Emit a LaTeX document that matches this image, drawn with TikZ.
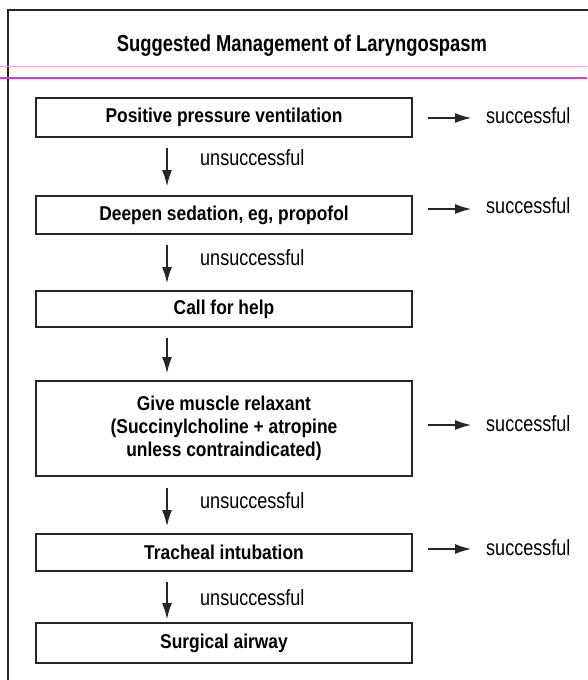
\documentclass[tikz,border=0pt]{standalone}
\usepackage{fontspec}
\setmainfont{Liberation Sans}
\newfontfamily\boxfont[FakeStretch=0.87]{Liberation Sans}
\newfontfamily\labfont[FakeStretch=0.82]{Liberation Sans}
\newfontfamily\titfont[FakeStretch=0.80]{Liberation Sans}
\usetikzlibrary{arrows.meta}
\definecolor{sepmag}{RGB}{214,60,200}
\begin{document}
\begin{tikzpicture}[x=1pt,y=-1pt,
  stepbox/.style={draw=black!85, line width=1.2pt, minimum width=376pt, inner sep=0pt,
    align=center, font=\boxfont\bfseries\fontsize{20}{23}\selectfont},
  lab/.style={font=\labfont\fontsize{22}{25}\selectfont, inner sep=0pt, anchor=west},
  arr/.style={draw=black!85, line width=1.2pt, -{Latex[length=16pt,width=10pt]}}]
\useasboundingbox (0,0) rectangle (587,680);
\fill[white] (0,0) rectangle (587,680);
% frame
\draw[line width=1.6pt, black!85] (8,681) -- (8,10) -- (588,10);
% separator
\draw[line width=0.8pt, sepmag!45] (0,66) -- (587,66);
\draw[line width=1.5pt, sepmag] (0,78) -- (587,78);
\node[font=\titfont\bfseries\fontsize{23}{26}\selectfont, inner sep=0pt] (title) at (302,46) {Suggested Management of Laryngospasm};
% boxes
\node[stepbox, minimum height=39pt] (b1) at (224,117.5) {Positive pressure ventilation};
\node[stepbox, minimum height=38pt] (b2) at (224,215) {Deepen sedation, eg, propofol};
\node[stepbox, minimum height=36pt] (b3) at (224,309) {Call for help};
\node[stepbox, minimum height=95pt] (b4) at (224,428.5) {Give muscle relaxant\\(Succinylcholine + atropine\\unless contraindicated)};
\node[stepbox, minimum height=37pt] (b5) at (224,552.5) {Tracheal intubation};
\node[stepbox, minimum height=40pt] (b6) at (224,643) {Surgical airway};
% right arrows
\coordinate (r1s) at (428,118); \coordinate (r1e) at (471,118);
\coordinate (r2s) at (428,209); \coordinate (r2e) at (471,209);
\coordinate (r4s) at (428,425); \coordinate (r4e) at (471,425);
\coordinate (r5s) at (428,549); \coordinate (r5e) at (471,549);
\draw[arr] (r1s) -- (r1e);
\draw[arr] (r2s) -- (r2e);
\draw[arr] (r4s) -- (r4e);
\draw[arr] (r5s) -- (r5e);
\node[lab] (s1) at (486,116) {successful};
\node[lab] (s2) at (486,206) {successful};
\node[lab] (s4) at (486,424) {successful};
\node[lab] (s5) at (486,548) {successful};
% down arrows
\draw[arr] (167,148) -- (167,186);
\draw[arr] (167,245) -- (167,283);
\draw[arr] (167,338) -- (167,373);
\draw[arr] (167,488) -- (167,526);
\draw[arr] (167,582) -- (167,619);
\node[lab] (u1) at (200,158) {unsuccessful};
\node[lab] (u2) at (200,258) {unsuccessful};
\node[lab] (u4) at (200,501) {unsuccessful};
\node[lab] (u5) at (200,598) {unsuccessful};
\end{tikzpicture}
\end{document}
